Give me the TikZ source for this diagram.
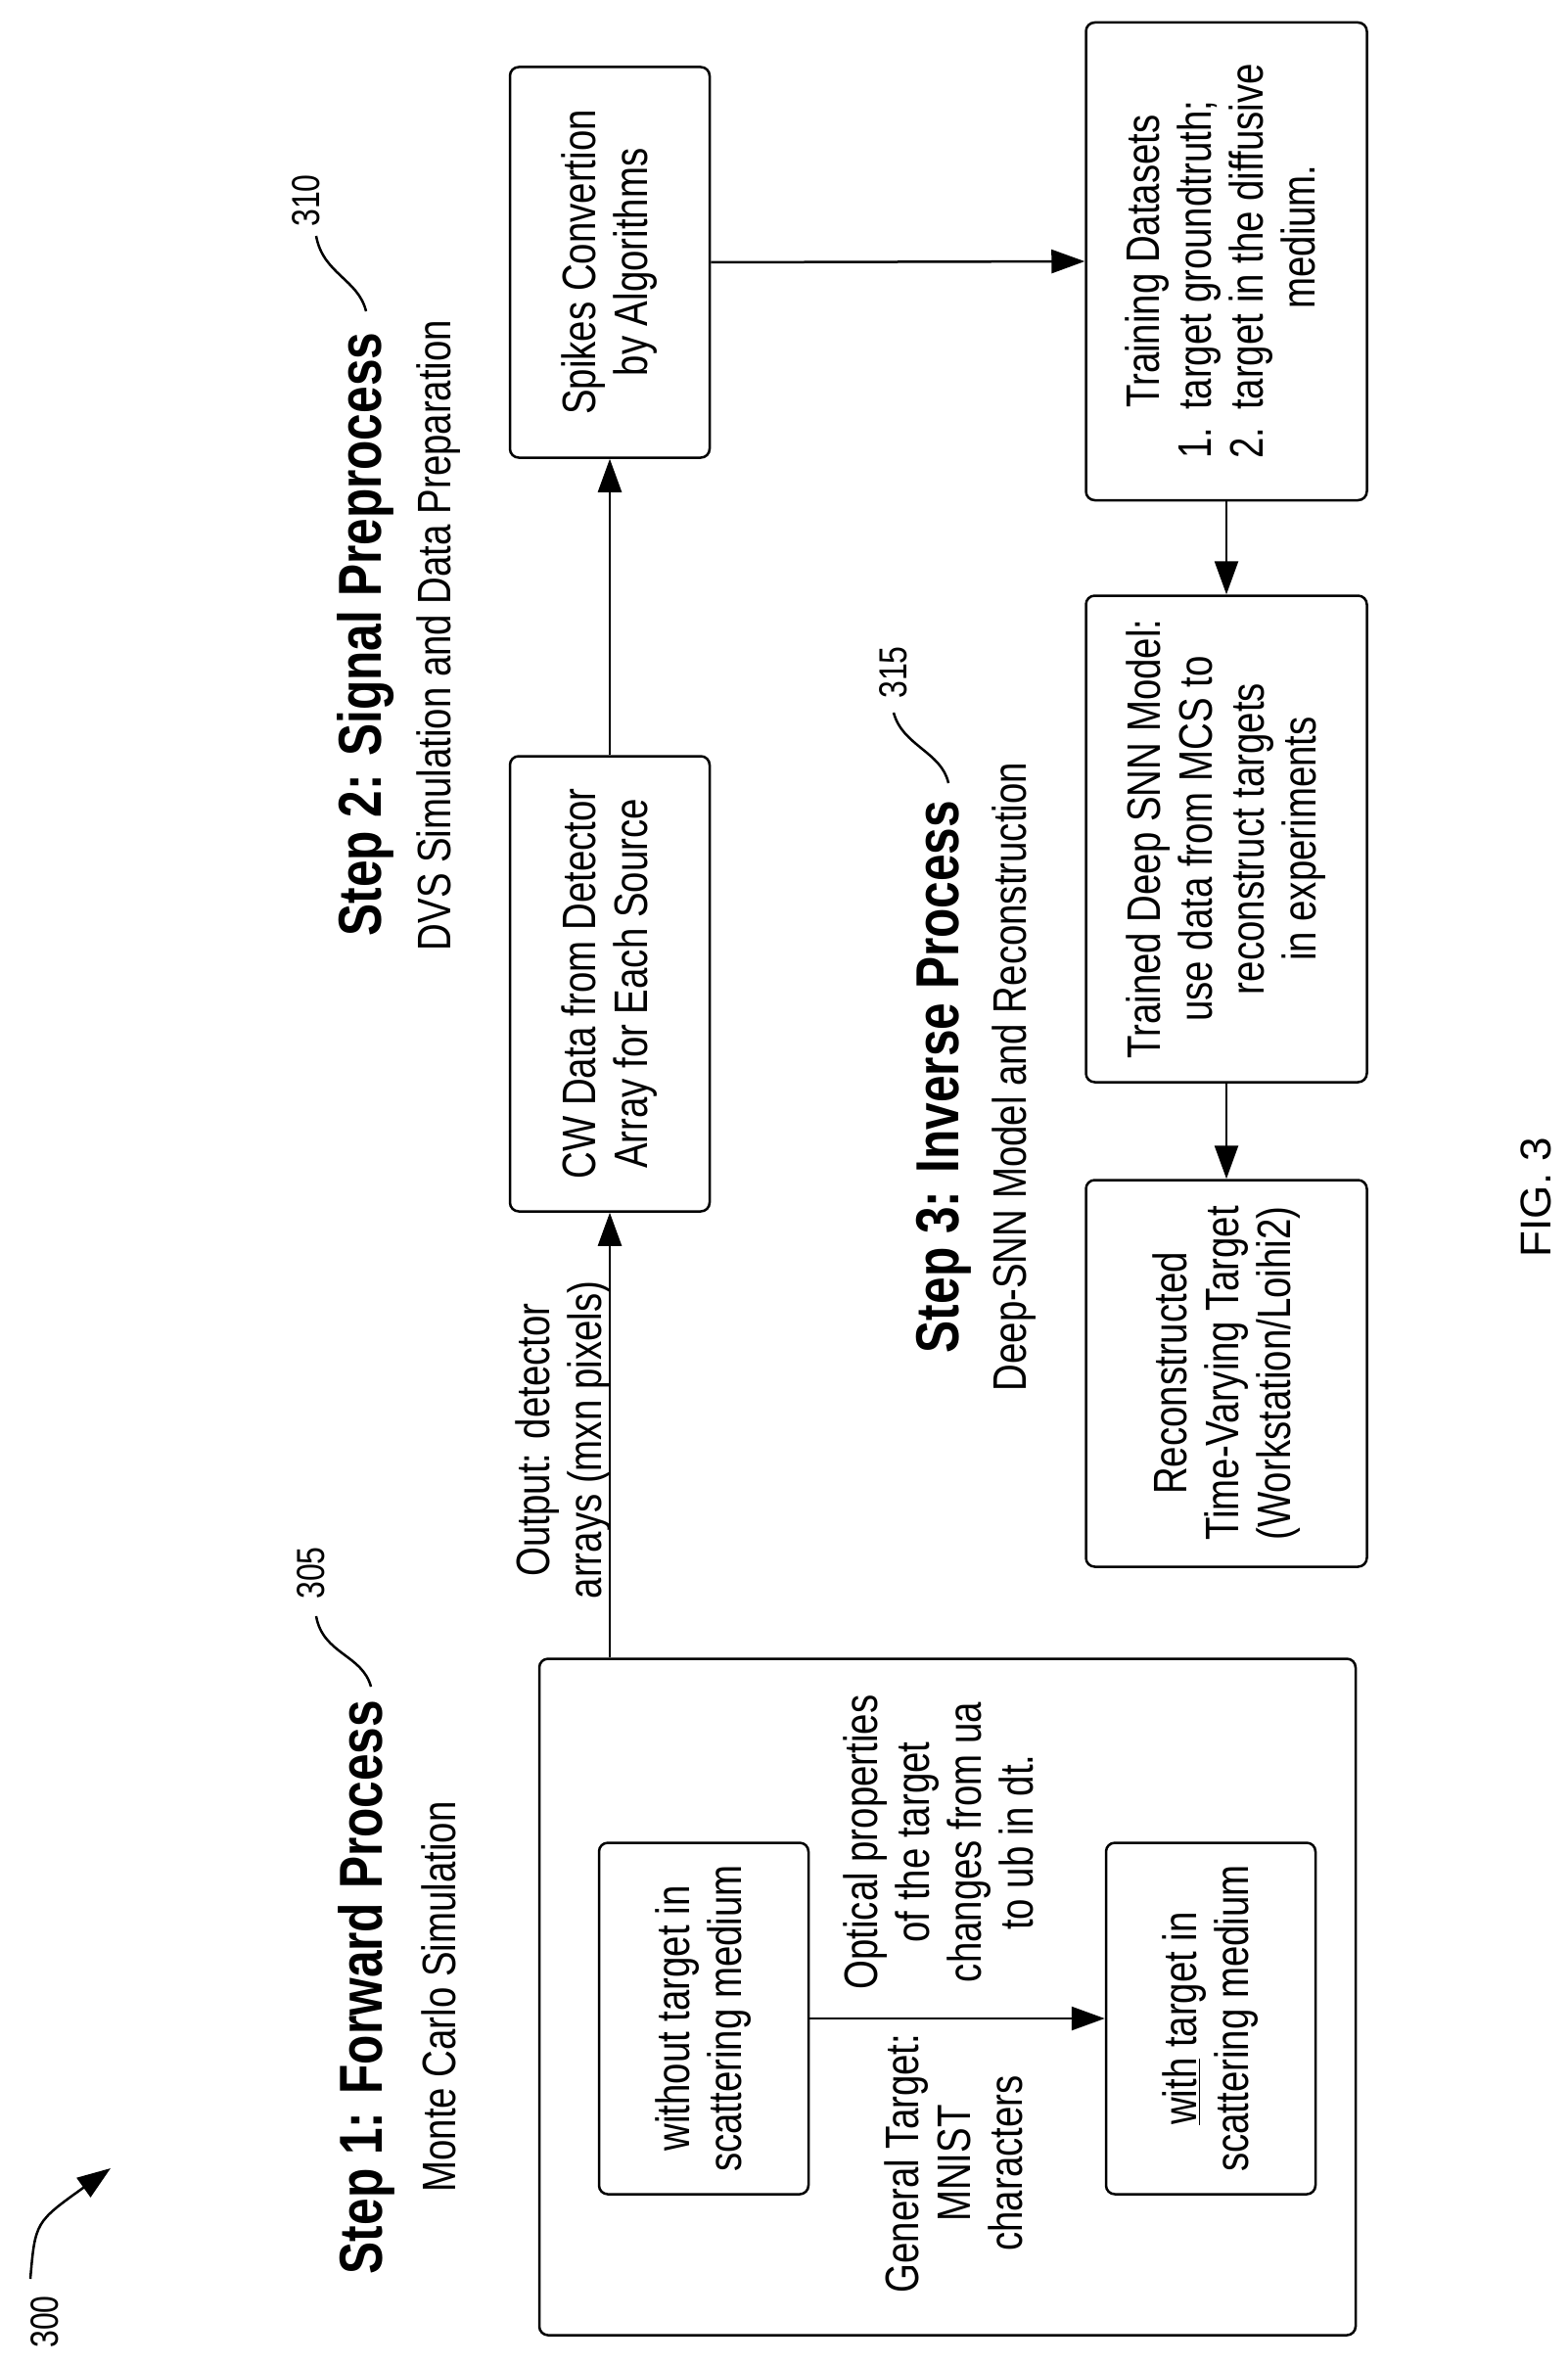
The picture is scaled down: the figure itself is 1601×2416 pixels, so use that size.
\documentclass[tikz,border=0pt]{standalone}
\usepackage{fontspec}
\setmainfont{Liberation Sans}[FakeStretch=0.8]
\newfontfamily\figfont{Liberation Sans}
\usetikzlibrary{arrows.meta}
\begin{document}
\begin{tikzpicture}[x=1pt,y=-1pt,
  body/.style={rotate=90,align=center,font=\fontsize{48}{53}\selectfont,inner sep=0},
  box/.style={body,draw,line width=2.5pt,rounded corners=9pt},
  ttl/.style={rotate=90,align=center,font=\fontsize{62}{66}\selectfont\bfseries,inner sep=0},
  lbl/.style={rotate=90,font=\fontsize{40}{44}\selectfont,inner sep=0},
  arr/.style={line width=2.5pt,-{Triangle[length=34pt,width=24pt]}},
  ln/.style={line width=2.5pt}]
\useasboundingbox (0,0) rectangle (1601,2416);
% Step 1
\node[box,minimum width=691,minimum height=834] (big) at (968,2040) {};
\node[box,minimum width=359,minimum height=214] (in1) at (719,2062) {without target in\\scattering medium};
\node[box,minimum width=359,minimum height=214] (in2) at (1237,2062) {\underline{with} target in\\scattering medium};
\draw[arr] (in1.south) -- (in2.north);
\node[body] (opt) at (959,1882) {Optical properties\\of the target\\changes from ua\\to ub in dt.};
\node[body] (gen) at (974,2210) {General Target:\\MNIST\\characters};
\node[ttl] (t1) at (374,2030) {Step 1: Forward Process};
\node[body] (s1) at (448,2040) {Monte Carlo Simulation};
\node[lbl] (n305) at (318,1607) {305};
\draw[ln] (379,1723) .. controls (370,1690) and (330,1690) .. (323,1651);
% 300
\node[lbl] (n300) at (46,2372) {300};
\coordinate (a300) at (113,2215);
\draw[arr] (31,2328) .. controls (36,2270) .. (a300);
% Step 2
\node[box,minimum width=465,minimum height=204] (cw) at (623,1005) {CW Data from Detector\\Array for Each Source};
\node[box,minimum width=399,minimum height=204] (sp) at (623,268) {Spikes Convertion\\by Algorithms};
\draw[arr] (cw.west |- big.east) -- (cw.west);
\node[body] (out) at (576,1471) {Output: detector\\arrays (mxn pixels)};
\draw[arr] (cw.east) -- (sp.west);
\node[ttl] (t2) at (374,648) {Step 2: Signal Preprocess};
\node[body] (s2) at (448,649) {DVS Simulation and Data Preparation};
\node[lbl] (n310) at (313,205) {310};
\draw[ln] (374,318) .. controls (366,285) and (330,280) .. (323,241);
% Step 3
\node[box,minimum width=488,minimum height=287] (tr) at (1253,267) {\begin{tabular}{@{}r@{\hspace{18pt}}l@{}}\multicolumn{2}{c}{Training Datasets}\\1. & target groundtruth;\\2. & target in the diffusive\\ & \multicolumn{1}{c}{medium.}\end{tabular}};
\node[box,minimum width=497,minimum height=287] (tm) at (1253,857) {Trained Deep SNN Model:\\use data from MCS to\\reconstruct targets\\in experiments};
\node[box,minimum width=395,minimum height=287] (rc) at (1253,1403) {Reconstructed\\Time-Varying Target\\(Workstation/Loihi2)};
\draw[arr] (sp.south) -- (tr.north);
\draw[arr] (tr.west) -- (tm.east);
\draw[arr] (tm.west) -- (rc.east);
\node[ttl] (t3) at (964,1100) {Step 3: Inverse Process};
\node[body] (s3) at (1036,1100) {Deep-SNN Model and Reconstruction};
\node[lbl] (n315) at (913,687) {315};
\draw[ln] (969,800) .. controls (962,768) and (922,762) .. (913,728);
\node[rotate=90,inner sep=0,font=\figfont\fontsize{44}{48}\selectfont] (fig) at (1569,1223) {FIG. 3};
\end{tikzpicture}
\end{document}
